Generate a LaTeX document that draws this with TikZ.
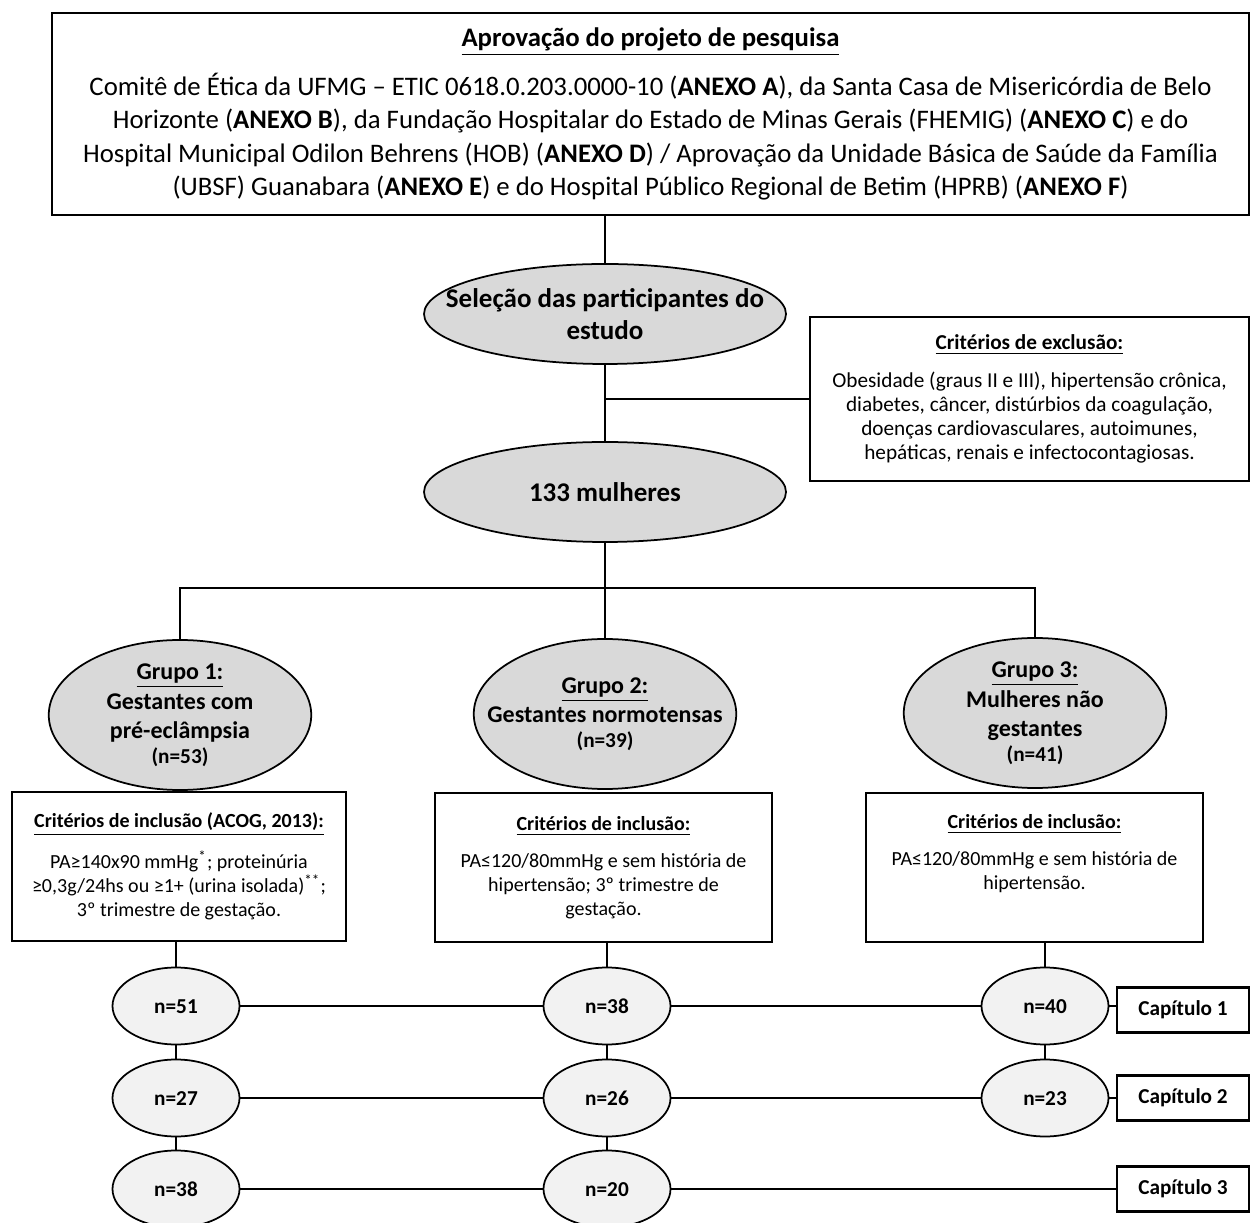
\documentclass[tikz,border=0pt]{standalone}
\usepackage{fontspec}
\setmainfont{Carlito}
\usetikzlibrary{shapes.geometric}

\definecolor{ovalgray}{HTML}{D9D9D9}
\definecolor{ovallight}{HTML}{F2F2F2}

\tikzset{
  textbox/.style={draw, rectangle, line width=1pt, inner sep=0pt, align=center},
  bigoval/.style={draw, ellipse, line width=0.7pt, fill=ovalgray, inner sep=0pt,
    minimum width=105pt, minimum height=60pt},
  ovaltext/.style={align=center, inner sep=0pt, font=\bfseries\fontsize{9.6}{11.8}\selectfont},
  smalloval/.style={draw, ellipse, line width=0.7pt, fill=ovallight, inner sep=0pt,
    minimum width=50.8pt, minimum height=30.8pt, text height=6pt, text depth=0pt,
    font=\bfseries\fontsize{8.5}{10}\selectfont},
  inclbox/.style={textbox, minimum width=134.8pt, minimum height=59.6pt,
    font=\fontsize{8}{9.6}\selectfont},
  chapbox/.style={textbox, minimum width=52.8pt, minimum height=18pt,
    font=\bfseries\fontsize{8.5}{10}\selectfont},
  link/.style={line width=0.7pt}
}

\begin{document}
\begin{tikzpicture}[x=0.4pt, y=-0.4pt]
        \useasboundingbox (0,0) rectangle (1252,1223);%
        {\footnotesize

        % Drawing approval box
        \node [textbox, minimum width=478.8pt, minimum height=80.8pt, font=\fontsize{10.7}{13.4}\selectfont] (approval) at (650.5,114) {%
          \underline{\textbf{Aprovação do projeto de pesquisa}}\\[6pt]
          Comitê de Ética da UFMG – ETIC 0618.0.203.0000-10 (\textbf{ANEXO A}), da Santa Casa de Misericórdia de Belo\\
          Horizonte (\textbf{ANEXO B}), da Fundação Hospitalar do Estado de Minas Gerais (FHEMIG) (\textbf{ANEXO C}) e do\\
          Hospital Municipal Odilon Behrens (HOB) (\textbf{ANEXO D}) / Aprovação da Unidade Básica de Saúde da Família\\
          (UBSF) Guanabara (\textbf{ANEXO E}) e do Hospital Público Regional de Betim (HPRB) (\textbf{ANEXO F})};%

        % Drawing selection and total ellipses
        \node [bigoval, minimum width=144.8pt, minimum height=40pt] (selection) at (605,314) {};%
        \node [ovaltext, font=\bfseries\fontsize{10.8}{12.8}\selectfont] (selectiontext) at (selection) {Seleção das participantes do\\estudo};%
        \node [bigoval, minimum width=144.8pt, minimum height=40pt] (women) at (605,492) {};%
        \node [ovaltext, font=\bfseries\fontsize{10.8}{12.8}\selectfont] (womentext) at (women) {133 mulheres};%

        % Drawing exclusion box
        \node [textbox, minimum width=175.6pt, minimum height=65.6pt, font=\fontsize{8.5}{9.6}\selectfont] (exclusion) at (1029.5,399) {%
          \underline{\textbf{Critérios de exclusão:}}\\[5.4pt]
          Obesidade (graus II e III), hipertensão crônica,\\
          diabetes, câncer, distúrbios da coagulação,\\
          doenças cardiovasculares, autoimunes,\\
          hepáticas, renais e infectocontagiosas.};%

        % Drawing group ellipses
        \node [bigoval] (group1) at (180,715) {};%
        \node [ovaltext] (group1text) at (group1) {\underline{Grupo 1:}\\Gestantes com\\pré-eclâmpsia\\[-2pt]{\fontsize{8.5}{10}\selectfont (n=53)}};%
        \node [bigoval] (group2) at (605,714) {};%
        \node [ovaltext] (group2text) at (group2) {\underline{Grupo 2:}\\Gestantes normotensas\\[-2pt]{\fontsize{8.5}{10}\selectfont (n=39)}};%
        \node [bigoval] (group3) at (1035,713) {};%
        \node [ovaltext] (group3text) at (group3) {\underline{Grupo 3:}\\Mulheres não\\gestantes\\[-2pt]{\fontsize{8.5}{10}\selectfont (n=41)}};%

        % Drawing inclusion boxes
        \node [inclbox, minimum width=133.6pt] (incl1) at (179,866.5) {%
          \underline{\textbf{Critérios de inclusão (ACOG, 2013):}}\\[5pt]
          PA≥140x90 mmHg\textsuperscript{*}; proteinúria\\
          ≥0,3g/24hs ou ≥1+ (urina isolada)\textsuperscript{**};\\
          3º trimestre de gestação.};%
        \node [inclbox] (incl2) at (603.5,867.5) {%
          \underline{\textbf{Critérios de inclusão:}}\\[5pt]
          PA≤120/80mmHg e sem história de\\
          hipertensão; 3º trimestre de\\
          gestação.};%
        \node [inclbox] (incl3) at (1034.5,867.5) {%
          \underline{\textbf{Critérios de inclusão:}}\\[5pt]
          PA≤120/80mmHg e sem história de\\
          hipertensão.\\
          \strut};%

        % Drawing sample ellipses
        \node [smalloval] (g1r1) at (176,1006) {n=51};%
        \node [smalloval] (g1r2) at (176,1098) {n=27};%
        \node [smalloval] (g1r3) at (176,1189) {n=38};%
        \node [smalloval] (g2r1) at (607,1006) {n=38};%
        \node [smalloval] (g2r2) at (607,1098) {n=26};%
        \node [smalloval] (g2r3) at (607,1189) {n=20};%
        \node [smalloval] (g3r1) at (1045,1006) {n=40};%
        \node [smalloval] (g3r2) at (1045,1098) {n=23};%

        % Drawing chapter boxes
        \node [chapbox] (chap1) at (1183,1010) {Capítulo 1};%
        \node [chapbox] (chap2) at (1183,1098) {Capítulo 2};%
        \node [chapbox] (chap3) at (1183,1189) {Capítulo 3};%

        % Drawing connectors of the upper part
        \coordinate (bar) at (605,588);%
        \draw [link] (approval.south -| selection.north) -- (selection.north);%
        \draw [link] (selection.south) -- (women.north);%
        \draw [link] (exclusion.west) -- (exclusion.west -| selection.south);%
        \draw [link] (women.south) -- (group2.north);%
        \draw [link] (group1.north) |- (bar) -| (group3.north);%

        % Drawing connectors of the lower part
        \draw [link] (incl1.south -| g1r1.north) -- (g1r1.north);%
        \draw [link] (incl2.south -| g2r1.north) -- (g2r1.north);%
        \draw [link] (incl3.south -| g3r1.north) -- (g3r1.north);%
        \draw [link] (g1r1) -- (g1r2);%
        \draw [link] (g1r2) -- (g1r3);%
        \draw [link] (g2r1) -- (g2r2);%
        \draw [link] (g2r2) -- (g2r3);%
        \draw [link] (g3r1) -- (g3r2);%
        \draw [link] (g1r1) -- (g2r1);%
        \draw [link] (g2r1) -- (g3r1);%
        \draw [link] (g3r1.east) -- (g3r1.east -| chap1.west);%
        \draw [link] (g1r2) -- (g2r2);%
        \draw [link] (g2r2) -- (g3r2);%
        \draw [link] (g3r2) -- (chap2);%
        \draw [link] (g1r3) -- (g2r3);%
        \draw [link] (g2r3) -- (chap3);%
        }
\end{tikzpicture}
\end{document}
